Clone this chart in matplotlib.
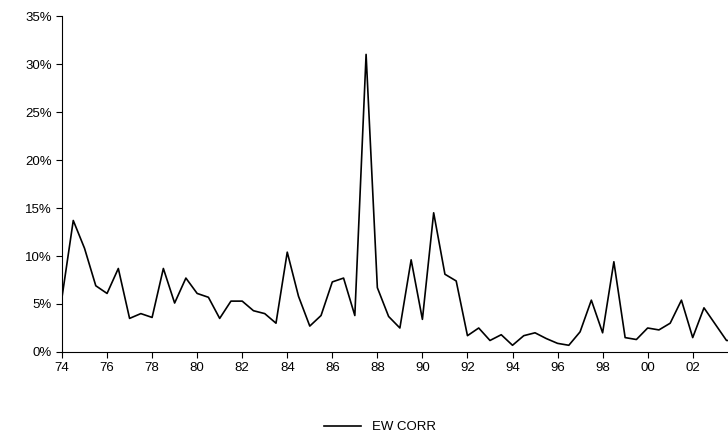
import matplotlib
matplotlib.use('Agg')
import matplotlib.pyplot as plt
import numpy as np

plt.rcParams['font.family'] = ['Liberation Sans', 'DejaVu Sans']

# semi-annual observations starting 1974
years = np.arange(1974, 2004, 0.5)
ew_corr = [5.7, 13.7, 10.8, 6.9, 6.1, 8.7, 3.5, 4.0, 3.6, 8.7,
           5.1, 7.7, 6.1, 5.7, 3.5, 5.3, 5.3, 4.3, 4.0, 3.0,
           10.4, 5.8, 2.7, 3.8, 7.3, 7.7, 3.8, 31.0, 6.7, 3.7,
           2.5, 9.6, 3.4, 14.5, 8.1, 7.4, 1.7, 2.5, 1.2, 1.8,
           0.7, 1.7, 2.0, 1.4, 0.9, 0.7, 2.1, 5.4, 2.0, 9.4,
           1.5, 1.3, 2.5, 2.3, 3.0, 5.4, 1.5, 4.6, 2.9, 1.2]
tick_years = list(range(1974, 2003, 2))
tick_labels = [f'{y % 100:02d}' for y in tick_years]

fig = plt.figure(figsize=(7.28, 4.41), dpi=100)
ax = fig.add_axes([62 / 728, 1 - 352 / 441, (731 - 62) / 728, (352 - 16) / 441])
ax.plot(list(years) + [2003.7], ew_corr + [ew_corr[-1]], color='black', linewidth=1.2, label='EW CORR')

ax.set_xlim(1974, 2003.7)
ax.set_ylim(0, 35)
ax.set_yticks(range(0, 36, 5))
ax.set_yticklabels([f'{v}%' for v in range(0, 36, 5)])
ax.set_xticks(tick_years)
ax.set_xticklabels(tick_labels)
ax.tick_params(labelsize=9.5, direction='out', length=4, width=0.8)
for s in ['top', 'right']:
    ax.spines[s].set_visible(False)

fig.legend(loc='center', bbox_to_anchor=(380 / 728, 1 - 427 / 441), frameon=False,
           fontsize=9.5, handlelength=2.8)
fig.savefig('out.png', dpi=100)
